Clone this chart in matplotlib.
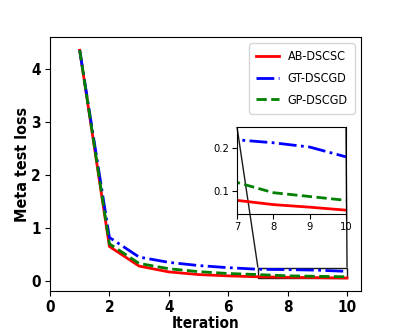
import matplotlib
matplotlib.use("Agg")
import matplotlib.pyplot as plt
from mpl_toolkits.axes_grid1.inset_locator import mark_inset

plt.rcParams["font.family"] = ["DejaVu Sans"]
plt.rcParams["font.stretch"] = "condensed"

iterations = [1, 2, 3, 4, 5, 6, 7, 8, 9, 10]
ab_dscsc = [4.35, 0.65, 0.28, 0.17, 0.12, 0.095, 0.078, 0.068, 0.062, 0.055]
gt_dscgd = [4.35, 0.82, 0.45, 0.35, 0.29, 0.25, 0.22, 0.213, 0.203, 0.18]
gp_dscgd = [4.35, 0.70, 0.33, 0.23, 0.175, 0.14, 0.12, 0.096, 0.087, 0.078]
labels = ["AB-DSCSC", "GT-DSCGD", "GP-DSCGD"]

fig = plt.figure(figsize=(4.02, 3.32), dpi=100)
ax = fig.add_axes([50/402, 1-291/332, 311/402, 254/332])

ax.plot(iterations, ab_dscsc, color="red", lw=2, ls="-", label=labels[0])
ax.plot(iterations, gt_dscgd, color="blue", lw=2, ls="-.", label=labels[1])
ax.plot(iterations, gp_dscgd, color="green", lw=2, ls="--", label=labels[2])
ax.set_xlim(0, 10.47)
ax.set_ylim(-0.19, 4.6)
ax.set_xticks([0, 2, 4, 6, 8, 10])
ax.set_yticks([0, 1, 2, 3, 4])
ax.tick_params(pad=3)
for t in ax.get_xticklabels() + ax.get_yticklabels():
    t.set_fontweight("bold")
    t.set_fontsize(11)
    t.set_fontstretch("condensed")
ax.set_xlabel("Iteration", fontsize=11, fontweight="bold", fontstretch="condensed", labelpad=1)
ax.set_ylabel("Meta test loss", fontsize=11.5, fontweight="bold", fontstretch="condensed", labelpad=1)
ax.legend(loc="upper right", handlelength=1.85, labelspacing=0.7, handletextpad=0.7,
          borderpad=0.55, borderaxespad=0.5, prop={"size": 9, "stretch": "condensed"})

axins = fig.add_axes([237/402, 1-214/332, 109/402, 87/332])
axins.plot(iterations, ab_dscsc, color="red", lw=2, ls="-")
axins.plot(iterations, gt_dscgd, color="blue", lw=2, ls="-.")
axins.plot(iterations, gp_dscgd, color="green", lw=2, ls="--")
axins.set_xlim(7, 10)
axins.set_ylim(0.046, 0.25)
axins.set_xticks([7, 8, 9, 10])
axins.set_yticks([0.1, 0.2])
axins.tick_params(labelsize=8, pad=2)
mark_inset(ax, axins, loc1=2, loc2=1, fc="none", ec="0.1", lw=1)

fig.savefig("out.png", dpi=100)
